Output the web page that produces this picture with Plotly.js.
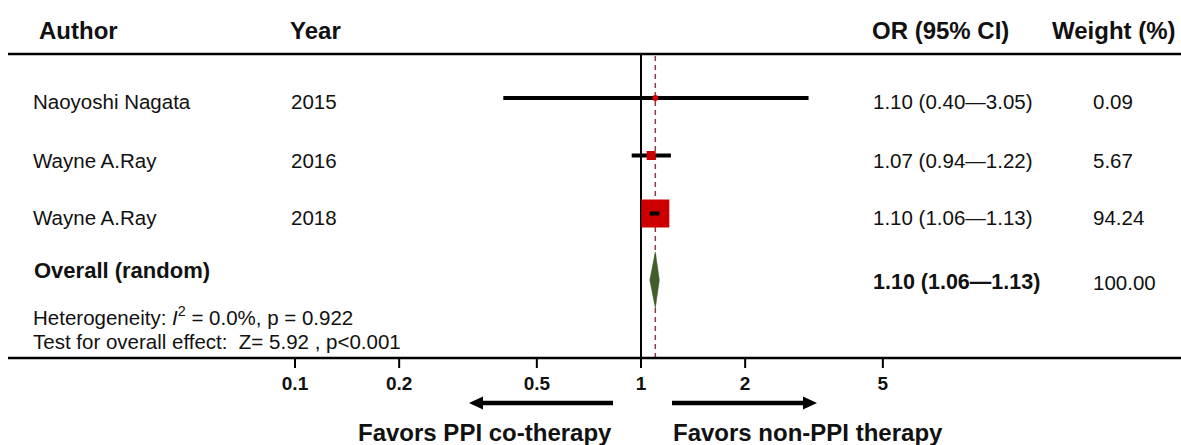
<!DOCTYPE html>
<html><head><meta charset="utf-8">
<script src="https://cdn.plot.ly/plotly-3.0.1.min.js"></script>
<style>html,body{margin:0;padding:0;background:#fff;} #chart{width:1181px;height:445px;}</style>
</head><body><div id="chart"></div>
<script>
// ---------------- data ----------------
const authors = ['Naoyoshi Nagata', 'Wayne A.Ray', 'Wayne A.Ray'];
const years = ['2015', '2016', '2018'];
const oddsRatios = [1.10, 1.07, 1.10];
const ciLower = [0.40, 0.94, 1.06];
const ciUpper = [3.05, 1.22, 1.13];
const weights = [0.09, 5.67, 94.24];
const overallLabel = 'Overall (random)';
const overallOR = 1.10;
const overallLower = 1.06;
const overallUpper = 1.13;
const overallWeight = 100.00;
const heterogeneityI2 = '0.0%';
const heterogeneityP = '0.922';
const overallZ = '5.92';
const overallP = '<0.001';
const tickValues = [0.1, 0.2, 0.5, 1, 2, 5];
const tickLabels = ['0.1', '0.2', '0.5', '1', '2', '5'];
const headers = ['Author', 'Year', 'OR (95% CI)', 'Weight (%)'];
const favorsLeft = 'Favors PPI co-therapy';
const favorsRight = 'Favors non-PPI therapy';

// ---------------- layout constants ----------------
const W = 1181, H = 445, L = 8;
const PW = W - L;
const axisY = 358;            // position of the bottom axis line
const pxPerDecade = 346, xOnePx = 641;
const xRange = [(L - xOnePx) / pxPerDecade, (W - xOnePx) / pxPerDecade];
const rowY = [98, 155.5, 213.5];
const rowTextY = [101.5, 160.5, 217.5];
const headerY = 30, headerLineY = 54;
const overallY = 280, overallHalf = 28;
const overallLabelY = 270.5, overallValueY = 282;
const hetY = 316, testY = 341;
const tickLen = 9, tickLabelY = 385;
const arrowY = 403, favorsY = 432.5;
const colAuthor = 32, colYear = 290, colOR = 872, colWeight = 1092;
const hdrX = [38, 289, 871, 1051];
const markerSizes = [6, 9, 28];
const markerSymbols = ['circle', 'square', 'square'];
const FONT = 'Arial, "Liberation Sans", sans-serif';
const red = '#cc0000', green = '#3e5d2a', dashCol = '#8b3a4a';

const xp = p => (p - L) / PW;
const esc = s => s.replace(/</g, '&lt;');
const fmtCI = (o, l, u) => o.toFixed(2) + ' (' + l.toFixed(2) + '\u2014' + u.toFixed(2) + ')';

// ---------------- traces ----------------
const traces = [];
traces.push({x: [1, 1], y: [headerLineY, axisY], mode: 'lines', line: {color: '#000', width: 2}, hoverinfo: 'skip'});
traces.push({x: [overallOR, overallOR], y: [headerLineY + 2, axisY], mode: 'lines', line: {color: dashCol, width: 1.5, dash: '5px,4px'}, hoverinfo: 'skip'});

const ciX = [], ciY = [];
oddsRatios.forEach((o, i) => { ciX.push(ciLower[i], ciUpper[i], null); ciY.push(rowY[i], rowY[i], null); });
traces.push({x: ciX, y: ciY, mode: 'lines', line: {color: '#000', width: 4}, hoverinfo: 'skip'});

traces.push({x: oddsRatios, y: rowY, mode: 'markers',
  marker: {color: red, opacity: 1, size: markerSizes, symbol: markerSymbols, line: {width: 0}}, hoverinfo: 'skip'});

// redraw CI line over boxes that are wider than the interval
const ovX = [], ovY = [];
oddsRatios.forEach((o, i) => {
  const span = pxPerDecade * (Math.log10(ciUpper[i]) - Math.log10(ciLower[i]));
  if (span < markerSizes[i]) { ovX.push(ciLower[i], ciUpper[i], null); ovY.push(rowY[i], rowY[i], null); }
});
traces.push({x: ovX, y: ovY, mode: 'lines', line: {color: '#000', width: 4}, hoverinfo: 'skip'});

traces.push({x: [overallLower, overallOR, overallUpper, overallOR, overallLower],
  y: [overallY, overallY - overallHalf, overallY, overallY + overallHalf, overallY],
  mode: 'lines', fill: 'toself', fillcolor: green, line: {color: green, width: 0.5}, hoverinfo: 'skip'});

// axis tick marks and tick labels, placed on the log x scale
const tkX = [], tkY = [];
tickValues.forEach(v => { tkX.push(v, v, null); tkY.push(axisY + 1, axisY + 1 + tickLen, null); });
traces.push({x: tkX, y: tkY, mode: 'lines', line: {color: '#000', width: 2}, hoverinfo: 'skip'});
traces.push({x: tickValues, y: tickValues.map(() => tickLabelY), mode: 'text', text: tickLabels,
  textposition: 'middle center', cliponaxis: false,
  textfont: {family: FONT, size: 19, color: '#111', weight: 'bold'}, hoverinfo: 'skip'});

// ---------------- annotations ----------------
const ann = [];
function txt(text, xpix, ypix, size, bold, anchor) {
  ann.push({text: text, xref: 'paper', yref: 'y', x: xp(xpix), y: ypix,
    xanchor: anchor || 'left', yanchor: 'middle', showarrow: false, borderpad: 0,
    font: {family: FONT, size: size, color: '#111', weight: bold ? 'bold' : 'normal'}});
}
headers.forEach((h, i) => txt(h, hdrX[i], headerY, 24, true));
authors.forEach((a, i) => {
  txt(a, colAuthor, rowTextY[i], 20.5, false);
  txt(years[i], colYear, rowTextY[i], 20.5, false);
  txt(fmtCI(oddsRatios[i], ciLower[i], ciUpper[i]), colOR, rowTextY[i], 20.5, false);
  txt(weights[i].toFixed(2), colWeight, rowTextY[i], 20.5, false);
});
txt(overallLabel, colAuthor + 1, overallLabelY, 22, true);
txt(fmtCI(overallOR, overallLower, overallUpper), colOR, overallValueY, 21.5, true);
txt(overallWeight.toFixed(2), colWeight, overallValueY, 20.5, false);
txt('Heterogeneity: <i>I</i><sup>2</sup> = ' + heterogeneityI2 + ', p = ' + heterogeneityP, colAuthor, hetY, 20.5, false);
txt('Test for overall effect:  Z= ' + overallZ + ' , p' + esc(overallP), colAuthor, testY, 20.5, false);
txt(favorsLeft, 613, favorsY, 24, true, 'right');
txt(favorsRight, 672, favorsY, 24, true, 'left');

// ---------------- shapes ----------------
const shapes = [
  {type: 'line', xref: 'paper', yref: 'y', x0: 0, x1: 1, y0: headerLineY, y1: headerLineY, line: {color: '#000', width: 2.5}},
  {type: 'line', xref: 'paper', yref: 'y', x0: 0, x1: 1, y0: axisY, y1: axisY, line: {color: '#000', width: 2.5}},
  // left arrow
  {type: 'line', xref: 'paper', yref: 'y', x0: xp(613), x1: xp(481), y0: arrowY, y1: arrowY, line: {color: '#000', width: 4.5}},
  {type: 'path', xref: 'paper', yref: 'y', fillcolor: '#000', line: {width: 0},
    path: 'M' + xp(469) + ',' + arrowY + ' L' + xp(483) + ',' + (arrowY - 6.5) + ' L' + xp(483) + ',' + (arrowY + 6.5) + ' Z'},
  // right arrow
  {type: 'line', xref: 'paper', yref: 'y', x0: xp(672), x1: xp(805), y0: arrowY, y1: arrowY, line: {color: '#000', width: 4.5}},
  {type: 'path', xref: 'paper', yref: 'y', fillcolor: '#000', line: {width: 0},
    path: 'M' + xp(817) + ',' + arrowY + ' L' + xp(803) + ',' + (arrowY - 6.5) + ' L' + xp(803) + ',' + (arrowY + 6.5) + ' Z'}
];

const layout = {
  width: W, height: H,
  margin: {l: L, r: 0, t: 0, b: 0, pad: 0},
  paper_bgcolor: '#fff', plot_bgcolor: '#fff',
  showlegend: false,
  font: {family: FONT, color: '#111'},
  xaxis: {type: 'log', range: xRange, visible: false, showgrid: false, zeroline: false, fixedrange: true},
  yaxis: {range: [H, 0], visible: false, showgrid: false, zeroline: false, fixedrange: true},
  annotations: ann,
  shapes: shapes,
  hovermode: false
};

Plotly.newPlot('chart', traces, layout, {staticPlot: true, displayModeBar: false});
</script>
</body></html>
